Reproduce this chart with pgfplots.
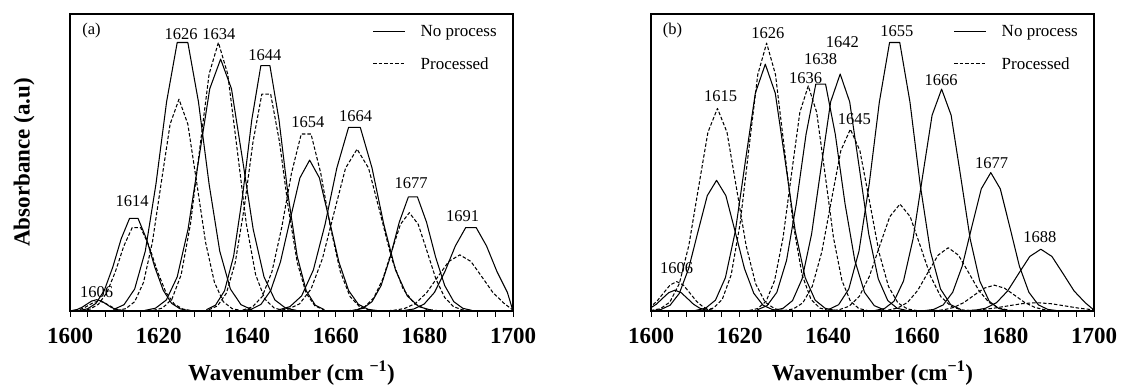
\documentclass[border=0pt]{standalone}
\usepackage{fontspec}
\setmainfont{Liberation Serif}
\usepackage{pgfplots}
\pgfplotsset{compat=1.18}
\tikzset{plab/.style={font=\fontsize{16.5}{18}\selectfont}}
\pgfplotsset{
  panel/.style={
    scale only axis, width=443pt, height=297pt, anchor=south west,
    xmin=1600, xmax=1700, ymin=0, ymax=100,
    xtick={1600,1620,...,1700}, minor x tick num=4, ytick=\empty,
    tick align=outside, xtick pos=bottom,
    major tick length=6pt, minor tick length=6pt,
    axis line style={line width=1.1pt},
    every tick/.style={black, line width=0.9pt},
    xticklabel style={font=\fontsize{23}{23}\selectfont\bfseries, yshift=-8pt},
    /pgf/number format/assume math mode=true,
    /pgf/number format/1000 sep={},
    xlabel style={font=\fontsize{23}{26}\selectfont\bfseries, at={(axis description cs:0.5,-0.209)}, anchor=center},
    legend style={draw=none, fill=none, at={(axis description cs:0.975,0.975)}, anchor=north east,
      font=\fontsize{17}{20}\selectfont, row sep=15pt, cells={anchor=west}},
    legend image code/.code={\draw[##1] (0pt,0pt) -- (32pt,0pt); \path (45pt,0pt);},
  },
  sol/.style={black, line width=1.05pt, line join=round, forget plot},
  das/.style={black, line width=1.05pt, line join=round, dash pattern=on 3.5pt off 2pt, forget plot},
}
\begin{document}
\begin{tikzpicture}
\path[use as bounding box] (0,0) rectangle (1124pt,390pt);
% ---------------- panel (a) ----------------
\begin{axis}[panel, at={(70pt,79pt)},
  xlabel={Wavenumber (cm \textsuperscript{−1})},
  ylabel={Absorbance (a.u)},
  every axis y label/.style={at={(axis description cs:-0.1038,0.5)}, rotate=90, anchor=center, font=\fontsize{23}{26}\selectfont\bfseries},
]
\addlegendimage{black, line width=1.05pt}
\addlegendentry{No process}
\addlegendimage{black, line width=1.05pt, dash pattern=on 3.5pt off 2pt}
\addlegendentry{Processed}
% solid
\addplot[sol] coordinates {(1600.5,0.17)(1601.6,0.51)(1602.7,1.23)(1603.8,2.30)(1604.9,3.35)(1606,3.8)(1607.1,3.35)(1608.2,2.30)(1609.3,1.23)(1610.4,0.51)(1611.5,0.17)(1613,0.03)};
\addplot[sol] coordinates {(1602.05,0.17)(1603.95,0.73)(1605.85,2.56)(1607.75,6.96)(1609.65,14.74)(1611.55,24.30)(1613.45,31.2)(1615.35,31.2)(1617.25,24.30)(1619.15,14.74)(1621.05,6.96)(1622.95,2.56)(1624.85,0.73)(1626.75,0.17)};
\addplot[sol] coordinates {(1609.8,0.48)(1612.2,2.12)(1614.6,7.42)(1617.0,20.18)(1619.4,42.71)(1621.8,70.40)(1624.2,90.4)(1626.6,90.4)(1629.0,70.40)(1631.4,42.71)(1633.8,20.18)(1636.2,7.42)(1638.6,2.12)(1641.0,0.48)};
\addplot[sol] coordinates {(1616.85,0.19)(1619.3,0.94)(1621.75,3.72)(1624.2,11.47)(1626.65,27.53)(1629.1,51.43)(1631.55,74.84)(1634.0,84.8)(1636.45,74.84)(1638.9,51.43)(1641.35,27.53)(1643.8,11.47)(1646.25,3.72)(1648.7,0.94)(1651.15,0.19)};
\addplot[sol] coordinates {(1630.78,0.44)(1632.83,1.94)(1634.88,6.78)(1636.93,18.44)(1638.98,39.02)(1641.03,64.33)(1643.08,82.6)(1645.13,82.6)(1647.18,64.33)(1649.23,39.02)(1651.28,18.44)(1653.33,6.78)(1655.38,1.94)(1657.43,0.44)};
\addplot[sol] coordinates {(1638.7,0.11)(1640.9,0.56)(1643.1,2.23)(1645.3,6.87)(1647.5,16.49)(1649.7,30.81)(1651.9,44.83)(1654.1,50.8)(1656.3,44.83)(1658.5,30.81)(1660.7,16.49)(1662.9,6.87)(1665.1,2.23)(1667.3,0.56)(1669.5,0.11)};
\addplot[sol] coordinates {(1646.98,0.33)(1649.63,1.45)(1652.28,5.07)(1654.93,13.79)(1657.58,29.19)(1660.23,48.13)(1662.88,61.8)(1665.53,61.8)(1668.18,48.13)(1670.83,29.19)(1673.48,13.79)(1676.13,5.07)(1678.78,1.45)(1681.43,0.33)};
\addplot[sol] coordinates {(1664.08,0.20)(1666.13,0.90)(1668.18,3.15)(1670.23,8.57)(1672.28,18.14)(1674.33,29.91)(1676.38,38.4)(1678.43,38.4)(1680.48,29.91)(1682.53,18.14)(1684.58,8.57)(1686.63,3.15)(1688.68,0.90)(1690.73,0.20)};
\addplot[sol] coordinates {(1675.23,0.15)(1677.58,0.66)(1679.93,2.31)(1682.28,6.27)(1684.63,13.27)(1686.98,21.88)(1689.33,28.1)(1691.68,28.1)(1694.03,21.88)(1696.38,13.27)(1698.73,6.27)(1700,0)};
% dashed
\addplot[das] coordinates {(1601,0.14)(1602.1,0.45)(1603.2,1.07)(1604.3,2.00)(1605.4,2.91)(1606.5,3.3)(1607.6,2.91)(1608.7,2.00)(1609.8,1.07)(1610.9,0.45)(1612,0.14)};
\addplot[das] coordinates {(1602.65,0.15)(1604.55,0.66)(1606.45,2.31)(1608.35,6.27)(1610.25,13.27)(1612.15,21.88)(1614.05,28.1)(1615.95,28.1)(1617.85,21.88)(1619.75,13.27)(1621.65,6.27)(1623.55,2.31)(1625.45,0.66)(1627.35,0.15)};
\addplot[das] coordinates {(1610.6,0.16)(1612.6,0.79)(1614.6,3.13)(1616.6,9.65)(1618.6,23.15)(1620.6,43.24)(1622.6,62.92)(1624.6,71.3)(1626.6,62.92)(1628.6,43.24)(1630.6,23.15)(1632.6,9.65)(1634.6,3.13)(1636.6,0.79)(1638.6,0.16)};
\addplot[das] coordinates {(1618.8,0.20)(1620.9,1.00)(1623.0,3.97)(1625.1,12.23)(1627.2,29.35)(1629.3,54.83)(1631.4,79.78)(1633.5,90.4)(1635.6,79.78)(1637.7,54.83)(1639.8,29.35)(1641.9,12.23)(1644.0,3.97)(1646.1,1.00)(1648.2,0.20)};
\addplot[das] coordinates {(1631.3,0.39)(1633.3,1.72)(1635.3,5.99)(1637.3,16.29)(1639.3,34.49)(1641.3,56.85)(1643.3,73)(1645.3,73)(1647.3,56.85)(1649.3,34.49)(1651.3,16.29)(1653.3,5.99)(1655.3,1.72)(1657.3,0.39)};
\addplot[das] coordinates {(1639.0,0.32)(1641.2,1.40)(1643.4,4.89)(1645.6,13.30)(1647.8,28.16)(1650.0,46.42)(1652.2,59.6)(1654.4,59.6)(1656.6,46.42)(1658.8,28.16)(1661.0,13.30)(1663.2,4.89)(1665.4,1.40)(1667.6,0.32)};
\addplot[das] coordinates {(1646.6,0.12)(1649.2,0.60)(1651.8,2.39)(1654.4,7.37)(1657.0,17.70)(1659.6,33.05)(1662.2,48.10)(1664.8,54.5)(1667.4,48.10)(1670.0,33.05)(1672.6,17.70)(1675.2,7.37)(1677.8,2.39)(1680.4,0.60)(1683.0,0.12)};
\addplot[das] coordinates {(1662.6,0.07)(1664.6,0.37)(1666.6,1.45)(1668.6,4.48)(1670.6,10.75)(1672.6,20.08)(1674.6,29.21)(1676.6,33.1)(1678.6,29.21)(1680.6,20.08)(1682.6,10.75)(1684.6,4.48)(1686.6,1.45)(1688.6,0.37)(1690.6,0.07)};
\addplot[das] coordinates {(1670.5,0.04)(1673,0.21)(1675.5,0.83)(1678,2.56)(1680.5,6.14)(1683,11.46)(1685.5,16.68)(1688,18.9)(1690.5,16.68)(1693,11.46)(1695.5,6.14)(1698,2.56)(1700,0.3)};
% labels
\node[plab] at (rel axis cs:0.0485,0.943) {(a)};
\node[plab] at (axis cs:1606.0,6.5) {1606};
\node[plab] at (axis cs:1614.0,37.1) {1614};
\node[plab] at (axis cs:1625.1,93.3) {1626};
\node[plab] at (axis cs:1633.6,93.3) {1634};
\node[plab] at (axis cs:1644.0,86.3) {1644};
\node[plab] at (axis cs:1653.7,63.5) {1654};
\node[plab] at (axis cs:1664.5,65.5) {1664};
\node[plab] at (axis cs:1677.0,42.9) {1677};
\node[plab] at (axis cs:1688.6,32.0) {1691};
\end{axis}
% ---------------- panel (b) ----------------
\begin{axis}[panel, at={(651pt,79pt)},
  xlabel={Wavenumber (cm\textsuperscript{−1})},
]
\addlegendimage{black, line width=1.05pt}
\addlegendentry{No process}
\addlegendimage{black, line width=1.05pt, dash pattern=on 3.5pt off 2pt}
\addlegendentry{Processed}
% solid
\addplot[sol] coordinates {(1598.4,0.31)(1599.8,0.95)(1601.2,2.27)(1602.6,4.25)(1604.0,6.18)(1605.4,7)(1606.8,6.18)(1608.2,4.25)(1609.6,2.27)(1611.0,0.95)(1612.4,0.31)(1613.8,0.08)};
\addplot[sol] coordinates {(1600.1,0.10)(1602.2,0.49)(1604.3,1.93)(1606.4,5.95)(1608.5,14.29)(1610.6,26.69)(1612.7,38.83)(1614.8,44)(1616.9,38.83)(1619.0,26.69)(1621.1,14.29)(1623.2,5.95)(1625.3,1.93)(1627.4,0.49)(1629.5,0.10)};
\addplot[sol] coordinates {(1610.05,0.18)(1612.3,0.92)(1614.55,3.65)(1616.8,11.24)(1619.05,26.98)(1621.3,50.40)(1623.55,73.34)(1625.8,83.1)(1628.05,73.34)(1630.3,50.40)(1632.55,26.98)(1634.8,11.24)(1637.05,3.65)(1639.3,0.92)(1641.55,0.18)};
\addplot[sol] coordinates {(1624.0,0.40)(1626.2,1.80)(1628.4,6.27)(1630.6,17.05)(1632.8,36.09)(1635.0,59.50)(1637.2,76.4)(1639.4,76.4)(1641.6,59.50)(1643.8,36.09)(1646.0,17.05)(1648.2,6.27)(1650.4,1.80)(1652.6,0.40)};
\addplot[sol] coordinates {(1627.65,0.18)(1629.8,0.89)(1631.95,3.50)(1634.1,10.80)(1636.25,25.91)(1638.4,48.40)(1640.55,70.42)(1642.7,79.8)(1644.85,70.42)(1647.0,48.40)(1649.15,25.91)(1651.3,10.80)(1653.45,3.50)(1655.6,0.89)(1657.75,0.18)};
\addplot[sol] coordinates {(1640.05,0.48)(1642.35,2.12)(1644.65,7.42)(1646.95,20.18)(1649.25,42.71)(1651.55,70.40)(1653.85,90.4)(1656.15,90.4)(1658.45,70.40)(1660.75,42.71)(1663.05,20.18)(1665.35,7.42)(1667.65,2.12)(1669.95,0.48)};
\addplot[sol] coordinates {(1650.55,0.16)(1652.7,0.83)(1654.85,3.28)(1657.0,10.11)(1659.15,24.25)(1661.3,45.31)(1663.45,65.92)(1665.6,74.7)(1667.75,65.92)(1669.9,45.31)(1672.05,24.25)(1674.2,10.11)(1676.35,3.28)(1678.5,0.83)(1680.65,0.16)};
\addplot[sol] coordinates {(1661.65,0.10)(1663.8,0.52)(1665.95,2.05)(1668.1,6.30)(1670.25,15.13)(1672.4,28.26)(1674.55,41.12)(1676.7,46.6)(1678.85,41.12)(1681.0,28.26)(1683.15,15.13)(1685.3,6.30)(1687.45,2.05)(1689.6,0.52)(1691.75,0.10)};
\addplot[sol] coordinates {(1670.5,0.05)(1673,0.23)(1675.5,0.91)(1678,2.81)(1680.5,6.75)(1683,12.62)(1685.5,18.36)(1688,20.8)(1690.5,18.36)(1693,12.62)(1695.5,6.75)(1698,2.81)(1700,0.3)};
% dashed
\addplot[das] coordinates {(1598.3,0.43)(1599.8,1.34)(1601.3,3.21)(1602.8,6.00)(1604.3,8.74)(1605.8,9.9)(1607.3,8.74)(1608.8,6.00)(1610.3,3.21)(1611.8,1.34)(1613.3,0.43)(1614.8,0.11)};
\addplot[das] coordinates {(1599.95,0.15)(1602.1,0.76)(1604.25,2.99)(1606.4,9.23)(1608.55,22.14)(1610.7,41.36)(1612.85,60.19)(1615,68.2)(1617.15,60.19)(1619.3,41.36)(1621.45,22.14)(1623.6,9.23)(1625.75,2.99)(1627.9,0.76)(1630.05,0.15)};
\addplot[das] coordinates {(1612.1,0.20)(1614.1,1.00)(1616.1,3.96)(1618.1,12.20)(1620.1,29.29)(1622.1,54.71)(1624.1,79.60)(1626.1,90.2)(1628.1,79.60)(1630.1,54.71)(1632.1,29.29)(1634.1,12.20)(1636.1,3.96)(1638.1,1.00)(1640.1,0.20)};
\addplot[das] coordinates {(1622.2,0.17)(1624.1,0.84)(1626.0,3.33)(1627.9,10.26)(1629.8,24.61)(1631.7,45.97)(1633.6,66.89)(1635.5,75.8)(1637.4,66.89)(1639.3,45.97)(1641.2,24.61)(1643.1,10.26)(1645.0,3.33)(1646.9,0.84)(1648.8,0.17)};
\addplot[das] coordinates {(1629.95,0.13)(1632.1,0.68)(1634.25,2.69)(1636.4,8.28)(1638.55,19.87)(1640.7,37.12)(1642.85,54.01)(1645,61.2)(1647.15,54.01)(1649.3,37.12)(1651.45,19.87)(1653.6,8.28)(1655.75,2.69)(1657.9,0.68)(1660.05,0.13)};
\addplot[das] coordinates {(1640.1,0.08)(1642.4,0.40)(1644.7,1.58)(1647.0,4.87)(1649.3,11.69)(1651.6,21.83)(1653.9,31.77)(1656.2,36)(1658.5,31.77)(1660.8,21.83)(1663.1,11.69)(1665.4,4.87)(1667.7,1.58)(1670.0,0.40)(1672.3,0.08)};
\addplot[das] coordinates {(1651.0,0.05)(1653.3,0.24)(1655.6,0.94)(1657.9,2.88)(1660.2,6.92)(1662.5,12.92)(1664.8,18.80)(1667.1,21.3)(1669.4,18.80)(1671.7,12.92)(1674.0,6.92)(1676.3,2.88)(1678.6,0.94)(1680.9,0.24)(1683.2,0.05)};
\addplot[das] coordinates {(1661.4,0.02)(1663.7,0.10)(1666.0,0.38)(1668.3,1.18)(1670.6,2.82)(1672.9,5.28)(1675.2,7.68)(1677.5,8.7)(1679.8,7.68)(1682.1,5.28)(1684.4,2.82)(1686.7,1.18)(1689.0,0.38)(1691.3,0.10)(1693.6,0.02)};
\addplot[das] coordinates {(1667.5,0.03)(1670.75,0.12)(1674,0.38)(1677.25,0.91)(1680.5,1.70)(1683.75,2.47)(1687,2.8)(1690.25,2.47)(1693.5,1.70)(1696.75,0.91)(1700,0.38)};
% labels
\node[plab] at (rel axis cs:0.0485,0.943) {(b)};
\node[plab] at (axis cs:1605.8,14.6) {1606};
\node[plab] at (axis cs:1615.7,72.5) {1615};
\node[plab] at (axis cs:1626.4,93.6) {1626};
\node[plab] at (axis cs:1634.9,78.4) {1636};
\node[plab] at (axis cs:1638.3,84.8) {1638};
\node[plab] at (axis cs:1643.2,90.4) {1642};
\node[plab] at (axis cs:1645.9,64.6) {1645};
\node[plab] at (axis cs:1655.5,94.2) {1655};
\node[plab] at (axis cs:1665.5,77.8) {1666};
\node[plab] at (axis cs:1676.9,49.8) {1677};
\node[plab] at (axis cs:1687.8,24.9) {1688};
\end{axis}
\end{tikzpicture}
\end{document}
